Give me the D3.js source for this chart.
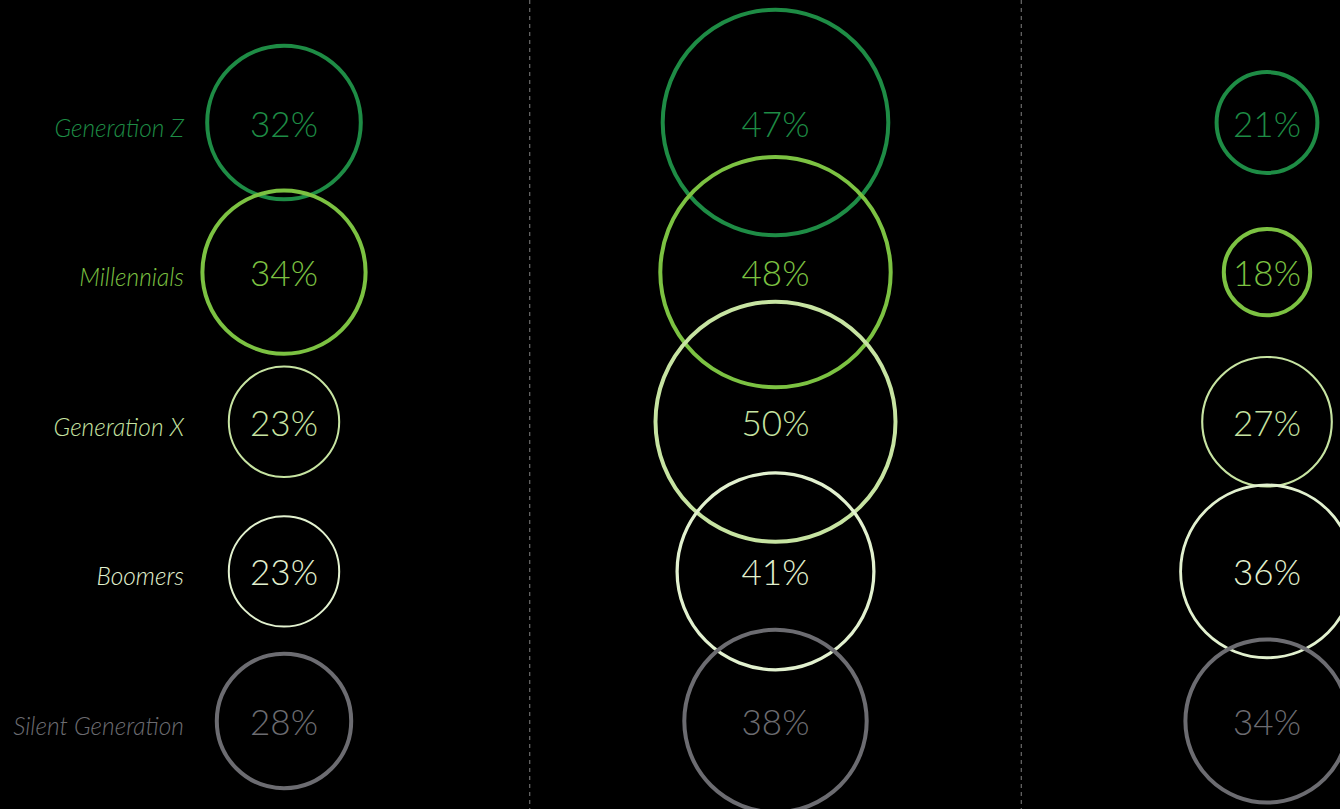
<!DOCTYPE html>
<html>
<head>
<meta charset="utf-8">
<script src="https://cdn.jsdelivr.net/npm/d3@7"></script>
<style>
  html, body { margin: 0; padding: 0; background: #000; }
  svg { display: block; }
</style>
</head>
<body>
<svg id="chart" width="1340" height="809"></svg>
<script>
// Generations (rows) and the three groups of answers (columns)
const generations = ["Generation Z", "Millennials", "Generation X", "Boomers", "Silent Generation"];
const groups = ["A", "B", "C"];

// Share of each generation, one array per column (percent)
const groupA = [32, 34, 23, 23, 28];
const groupB = [47, 48, 50, 41, 38];
const groupC = [21, 18, 27, 36, 34];
const seriesValues = [groupA, groupB, groupC];

const palette = ["#1e8c45", "#7cc242", "#c7e4a2", "#e2f1cf", "#6c6c71"];

const W = 1340, H = 809;
const svg = d3.select("#chart");

svg.append("rect").attr("width", W).attr("height", H).attr("fill", "#000");

const x = d3.scalePoint().domain(groups).range([284, 1267]);
const y = d3.scalePoint().domain(generations).range([122.5, 721]);
const r = d3.scaleLinear().domain([0, 50]).range([0, 120]);
const color = d3.scaleOrdinal().domain(generations).range(palette);

// dashed dividers halfway between columns
const step = x.step();
svg.append("g").selectAll("line")
  .data(groups.slice(1))
  .join("line")
  .attr("x1", d => x(d) - step / 2)
  .attr("x2", d => x(d) - step / 2)
  .attr("y1", 0)
  .attr("y2", H)
  .attr("stroke", "#808080")
  .attr("stroke-width", 1)
  .attr("stroke-dasharray", "4,4");

// row labels
svg.append("g").selectAll("text")
  .data(generations)
  .join("text")
  .attr("x", 184)
  .attr("y", d => y(d) + 14)
  .attr("text-anchor", "end")
  .attr("font-family", "Lato, sans-serif")
  .attr("font-style", "italic")
  .attr("font-weight", 300)
  .attr("font-size", 24.5)
  .attr("fill", d => color(d))
  .text(d => d);

const cells = [];
groups.forEach((g, gi) => {
  generations.forEach((gen, i) => {
    cells.push({ group: g, gen, value: seriesValues[gi][i], row: i });
  });
});

const pale = new Set(["Generation X", "Boomers"]);

// circles, drawn column by column, top row first
svg.append("g").selectAll("circle")
  .data(cells)
  .join("circle")
  .attr("cx", d => x(d.group))
  .attr("cy", d => y(d.gen))
  .attr("r", d => r(d.value))
  .attr("fill", "none")
  .attr("stroke", d => color(d.gen))
  .attr("stroke-width", d => pale.has(d.gen) ? Math.max(2, r(d.value) * 0.033) : 4);

// value labels
svg.append("g").selectAll("text")
  .data(cells)
  .join("text")
  .attr("x", d => x(d.group))
  .attr("y", d => y(d.gen) + 14)
  .attr("text-anchor", "middle")
  .attr("font-family", "Lato, sans-serif")
  .attr("font-weight", 300)
  .attr("font-size", 35)
  .attr("fill", d => color(d.gen))
  .text(d => d.value + "%");
</script>
</body>
</html>
